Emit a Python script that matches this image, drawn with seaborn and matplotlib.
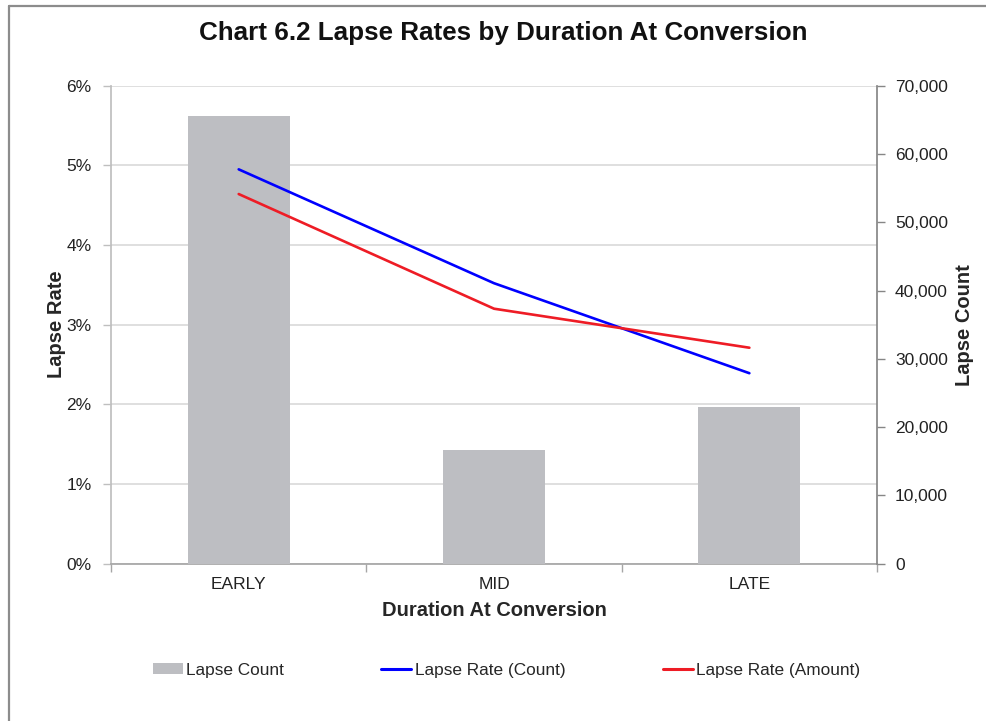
import matplotlib
matplotlib.use("Agg")
import matplotlib.pyplot as plt
from matplotlib.lines import Line2D
from matplotlib.patches import Patch
from matplotlib.ticker import FuncFormatter, MultipleLocator, FixedLocator
import pandas as pd
import seaborn as sns

# Lapse experience by duration at conversion
categories = ["EARLY", "MID", "LATE"]
lapse_count = [65600, 16700, 22950]
lapse_rate_count = [0.0495, 0.0352, 0.0239]
lapse_rate_amount = [0.0464, 0.0320, 0.0271]

sns.set_theme(style="white")
plt.rcParams["font.family"] = ["Liberation Sans", "DejaVu Sans"]

df = pd.DataFrame({
    "duration": categories,
    "count": lapse_count,
    "rate_count": lapse_rate_count,
    "rate_amount": lapse_rate_amount,
})

fig = plt.figure(figsize=(9.86, 7.21), dpi=100)
ax = fig.add_subplot(111)
fig.subplots_adjust(left=0.1126, right=0.8895, top=0.8811, bottom=0.2184)

# bars on the secondary (count) axis, lines on a third overlay axis sharing the rate scale
ax2 = ax.twinx()
ax3 = ax.twinx()
ax.set_zorder(1)
ax2.set_zorder(2)
ax3.set_zorder(3)
ax2.patch.set_visible(False)
ax3.patch.set_visible(False)

bar_color = "#BDBEC2"
blue = "#0000FF"
red = "#EE1C25"

sns.barplot(data=df, x="duration", y="count", ax=ax2, color=bar_color,
            width=0.4, saturation=1, edgecolor="none")
sns.lineplot(data=df, x="duration", y="rate_count", ax=ax3, color=blue,
             linewidth=1.9, sort=False)
sns.lineplot(data=df, x="duration", y="rate_amount", ax=ax3, color=red,
             linewidth=1.9, sort=False)

for a in (ax, ax2, ax3):
    a.set_xlim(-0.5, 2.5)

# left axis: lapse rate
ax.set_ylim(0, 0.06)
ax3.set_ylim(0, 0.06)
ax.yaxis.set_major_locator(MultipleLocator(0.01))
ax.yaxis.set_major_formatter(FuncFormatter(lambda v, p: f"{v*100:.0f}%"))
ax.grid(axis="y", color="#D9D9D9", linewidth=1.2)
ax.grid(axis="x", visible=False)
ax.tick_params(axis="y", which="major", direction="out", length=6, width=1,
               color="#BFBFBF", labelsize=12.5, labelcolor="#222222", pad=8, left=True)
ax.set_ylabel("Lapse Rate", fontsize=14.5, fontweight="bold")
ax.yaxis.set_label_coords(-0.059, 0.5)

# right axis: lapse count
ax2.set_ylim(0, 70000)
ax2.yaxis.set_major_locator(MultipleLocator(10000))
ax2.yaxis.set_major_formatter(FuncFormatter(lambda v, p: f"{v:,.0f}"))
ax2.tick_params(axis="y", which="major", direction="out", length=6, width=1,
                color="#868686", labelsize=12.5, labelcolor="#222222", pad=7, right=True)
ax2.set_ylabel("Lapse Count", fontsize=14.5, fontweight="bold")
ax2.yaxis.set_label_coords(1.102, 0.5)
ax2.grid(False)

# overlay axis carries no decorations of its own
ax3.set_axis_off()

# category axis: ticks between categories, labels at centres
ax.xaxis.set_major_locator(FixedLocator([-0.5, 0.5, 1.5, 2.5]))
ax.xaxis.set_minor_locator(FixedLocator([0, 1, 2]))
ax.set_xticklabels([], minor=False)
ax.set_xticklabels(categories, minor=True)
ax.tick_params(axis="x", which="major", direction="out", length=6, width=1,
               color="#A6A6A6", bottom=True)
ax.tick_params(axis="x", which="minor", length=0, labelsize=12.5,
               labelcolor="#222222", pad=10, bottom=True)
ax.set_xlabel("Duration At Conversion", fontsize=14.5, fontweight="bold", labelpad=6)
ax2.set_xlabel("")
ax2.tick_params(axis="x", bottom=False, labelbottom=False)

for a in (ax, ax2):
    a.spines["top"].set_visible(False)
ax.spines["right"].set_visible(False)
ax.spines["left"].set_color("#BFBFBF")
ax.spines["bottom"].set_color("#A6A6A6")
ax2.spines["left"].set_visible(False)
ax2.spines["bottom"].set_visible(False)
ax2.spines["right"].set_color("#868686")

fig.text(0.510, 0.954, "Chart 6.2 Lapse Rates by Duration At Conversion",
         ha="center", va="center", fontsize=18.7, fontweight="bold", color="#111111")

handles = [
    Patch(facecolor=bar_color, edgecolor="none", label="Lapse Count"),
    Line2D([], [], color=blue, linewidth=2.2, label="Lapse Rate (Count)"),
    Line2D([], [], color=red, linewidth=2.2, label="Lapse Rate (Amount)"),
]
fig.legend(handles=handles, loc="center", bbox_to_anchor=(0.5137, 0.0707),
           ncol=3, frameon=False, fontsize=12.4, handlelength=1.75,
           handletextpad=0.2, columnspacing=5.65, handleheight=0.6)

# chart frame
fig.add_artist(Line2D([9 / 986, 1.0], [1 - 6 / 721, 1 - 6 / 721],
                      transform=fig.transFigure, color="#8C8C8C", linewidth=1.6))
fig.add_artist(Line2D([9 / 986, 9 / 986], [0.0, 1 - 6 / 721],
                      transform=fig.transFigure, color="#8C8C8C", linewidth=1.6))

fig.savefig("out.png", dpi=100)
